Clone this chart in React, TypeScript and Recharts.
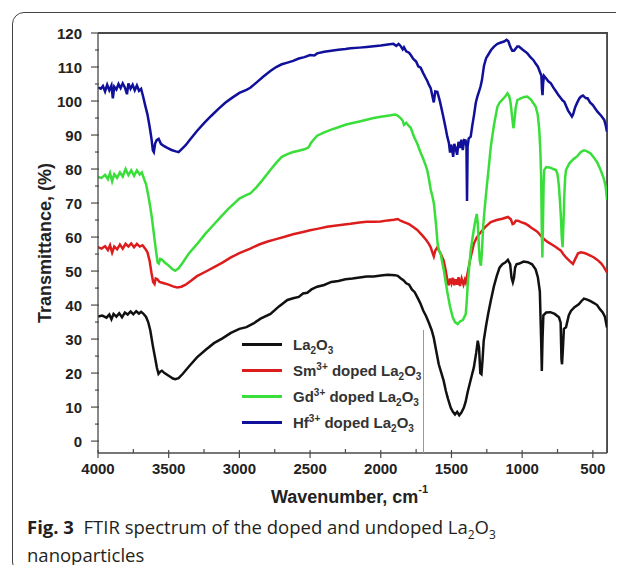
import { LineChart, Line, XAxis, YAxis, Legend, CartesianGrid } from 'recharts';
import type { ReactNode } from 'react';

type Pt = [number, number];

// [wavenumber (cm-1), transmittance (%)]
const la2o3: Pt[] = [
  [4000, 36.6], [3970, 36.9], [3940, 36.3], [3920, 37.2], [3905, 35.8], [3890, 37.4], [3870, 36.6], [3850, 37.6],
  [3830, 36.4], [3810, 37.8], [3790, 37.2], [3770, 38.1], [3750, 37.3], [3730, 38.2], [3710, 37.5], [3695, 38],
  [3680, 37.5], [3660, 36.5], [3645, 35], [3630, 32.5], [3612, 28], [3595, 24.2], [3583, 21.5], [3572, 19.8],
  [3560, 20.4], [3548, 20.7], [3530, 20], [3500, 19.2], [3470, 18.4], [3454, 18.2], [3430, 18.5], [3400, 19.8],
  [3360, 21.8], [3300, 24.6], [3240, 26.8], [3180, 28.8], [3120, 30.2], [3060, 31.8], [3000, 33], [2950, 33.5],
  [2900, 34.6], [2850, 36], [2780, 37.4], [2720, 39.6], [2660, 41.5], [2620, 42], [2580, 42.4], [2550, 43.4],
  [2520, 43.6], [2490, 44.6], [2450, 45.4], [2400, 45.9], [2350, 46.8], [2300, 47.1], [2250, 47.6], [2200, 47.8],
  [2150, 48.1], [2100, 48.4], [2050, 48.4], [2000, 48.7], [1950, 48.9], [1900, 48.8], [1880, 48.6], [1860, 47.9],
  [1840, 47.3], [1820, 46.4], [1800, 46], [1780, 44.6], [1760, 43.8], [1740, 42.2], [1720, 40.5], [1700, 38.4],
  [1680, 36.8], [1660, 34.8], [1640, 32.6], [1626, 30.5], [1610, 27], [1590, 22.6], [1575, 20.5], [1555, 17.7],
  [1540, 14.8], [1525, 12.5], [1505, 9.8], [1490, 8.6], [1475, 7.8], [1460, 8.6], [1445, 7.6], [1430, 8.4],
  [1413, 9.8], [1400, 11.5], [1385, 14.5], [1370, 17], [1355, 19.5], [1342, 21.6], [1325, 26], [1314, 29.5],
  [1305, 27.5], [1296, 20], [1288, 19.7], [1280, 24], [1272, 29.5], [1255, 34], [1240, 37.5], [1222, 41.3],
  [1200, 45.5], [1180, 48.5], [1160, 51], [1140, 52], [1120, 52.5], [1101, 53.3], [1085, 52], [1075, 48],
  [1066, 46.7], [1058, 48], [1050, 51], [1040, 52], [1020, 52.2], [990, 52.8], [960, 52.6], [930, 52],
  [905, 50.5], [889, 48.2], [875, 44], [866, 30], [861, 20.6], [856, 30], [850, 37], [830, 37.8], [800, 37.9],
  [770, 37.4], [740, 36.4], [728, 34.8], [722, 24], [718, 22.6], [712, 27], [705, 33], [690, 33.5], [670, 37],
  [655, 38.3], [630, 39.4], [600, 40.2], [580, 41.2], [563, 41.9], [540, 41.6], [520, 41.2], [492, 40.6],
  [470, 40], [450, 38.8], [430, 37.8], [415, 36.6], [400, 33.4],
];

const smDoped: Pt[] = [
  [4000, 57], [3975, 56.6], [3950, 57.3], [3930, 56.2], [3915, 57.6], [3900, 55.4], [3885, 57.2], [3865, 56.4],
  [3845, 57.8], [3825, 56.6], [3805, 58], [3785, 57.2], [3765, 58.1], [3745, 57], [3725, 58], [3705, 57.2],
  [3685, 57.6], [3665, 56.5], [3650, 55.5], [3635, 53], [3622, 49.5], [3610, 46.8], [3600, 46.2], [3592, 47.8],
  [3580, 47.6], [3565, 46.8], [3540, 46.5], [3500, 46], [3470, 45.5], [3440, 45.2], [3410, 45.4], [3380, 46],
  [3340, 47.2], [3300, 48.5], [3240, 49.8], [3182, 51.1], [3120, 52.5], [3060, 54], [3000, 55.3], [2923, 56.6],
  [2860, 57.8], [2800, 58.7], [2740, 59.4], [2686, 60], [2620, 60.8], [2550, 61.5], [2500, 62], [2450, 62.4],
  [2380, 63], [2300, 63.5], [2214, 63.9], [2150, 64.3], [2100, 64.5], [2050, 64.5], [2000, 64.6], [1950, 64.9],
  [1907, 65.1], [1880, 65.3], [1860, 64.8], [1836, 64.4], [1800, 63.8], [1768, 62.9], [1740, 62], [1718, 61],
  [1700, 60.2], [1680, 59.2], [1660, 58], [1647, 57], [1635, 55.5], [1625, 54.3], [1615, 56], [1600, 57],
  [1588, 56], [1575, 55], [1555, 53.1], [1540, 50], [1528, 47], [1520, 45.8], [1510, 47.8], [1500, 46.4],
  [1490, 48], [1480, 45.8], [1470, 47.6], [1460, 46], [1450, 48.2], [1440, 45.6], [1428, 47.8], [1415, 46],
  [1405, 47.4], [1399, 46.7], [1390, 48.5], [1378, 51.1], [1365, 54], [1350, 56.5], [1342, 58], [1320, 60],
  [1293, 61.4], [1260, 63], [1222, 64.4], [1180, 65], [1140, 65.4], [1101, 65.9], [1080, 65.2], [1068, 63.8],
  [1058, 64], [1045, 64.8], [1030, 64.8], [1008, 64.4], [980, 64], [960, 63.5], [930, 62.6], [900, 61.8],
  [889, 61.4], [860, 60], [840, 59.2], [818, 58.5], [790, 57.8], [760, 57], [740, 56.4], [726, 56], [710, 55],
  [690, 54], [665, 53], [641, 52.1], [625, 53.5], [605, 55.2], [584, 55.5], [560, 55.3], [540, 55], [515, 54.5],
  [492, 54], [460, 53], [440, 52.2], [421, 51.1], [400, 49.6],
];

const gdDoped: Pt[] = [
  [4000, 77.7], [3975, 77.4], [3950, 78.3], [3930, 77], [3915, 78.8], [3900, 76.4], [3885, 78.5], [3865, 77.4],
  [3845, 79], [3825, 77.8], [3805, 80], [3785, 78.2], [3765, 79.6], [3745, 78], [3725, 79.6], [3705, 78.4],
  [3690, 79], [3675, 77.2], [3660, 75.5], [3648, 73], [3635, 70], [3620, 66], [3605, 61], [3590, 56],
  [3578, 52.5], [3570, 52.2], [3560, 53.6], [3548, 53.4], [3530, 52.6], [3500, 51.6], [3475, 50.6], [3454, 50.1],
  [3430, 50.8], [3400, 52.5], [3360, 55], [3300, 57.9], [3240, 61], [3200, 62.8], [3135, 65.8], [3080, 68.2],
  [3000, 71.3], [2960, 72.2], [2923, 72.8], [2880, 74.6], [2840, 76.6], [2781, 79.7], [2740, 81.8], [2700, 83.6],
  [2660, 84.4], [2620, 85], [2580, 85.4], [2540, 85.8], [2510, 86.4], [2495, 87.6], [2480, 88.4], [2450, 89.8],
  [2400, 90.8], [2350, 91.6], [2300, 92.3], [2250, 93], [2214, 93.4], [2150, 94], [2100, 94.5], [2050, 95],
  [2000, 95.4], [1950, 95.7], [1900, 96], [1883, 95.8], [1860, 95], [1845, 94.2], [1836, 93], [1820, 93.6],
  [1800, 92.6], [1789, 92.2], [1765, 89.5], [1742, 87.5], [1720, 85], [1700, 83], [1680, 80.8], [1671, 79.6],
  [1660, 77.2], [1647, 74], [1635, 72], [1624, 69.8], [1610, 64], [1598, 58], [1588, 56], [1576, 55],
  [1565, 52.5], [1553, 50], [1540, 46.5], [1527, 43.3], [1510, 39.5], [1491, 36.4], [1475, 35], [1456, 34.4],
  [1440, 35.2], [1420, 35.6], [1405, 36.8], [1399, 37.4], [1392, 41], [1385, 46], [1375, 51], [1364, 56],
  [1350, 60], [1335, 64], [1321, 66.8], [1314, 64], [1307, 58], [1300, 53], [1292, 51.6], [1284, 56],
  [1276, 63], [1265, 68.5], [1250, 75], [1235, 81], [1222, 86.5], [1210, 90], [1199, 93], [1185, 96.2],
  [1175, 98.3], [1160, 99.5], [1140, 100.4], [1120, 101.3], [1104, 102.3], [1092, 101.5], [1082, 99.5],
  [1070, 95], [1062, 92], [1055, 94], [1046, 98], [1034, 100.3], [1010, 100.8], [985, 101.2], [963, 101.3],
  [935, 100.3], [904, 98.3], [890, 96], [880, 92], [872, 86], [866, 78], [861, 62], [857, 54], [852, 66],
  [848, 76], [844, 79.7], [830, 80.6], [800, 80.4], [780, 80], [761, 79.7], [750, 78.5], [740, 75], [732, 70],
  [726, 65.8], [720, 60], [714, 57], [708, 64], [702, 72], [696, 77.5], [690, 79.7], [667, 81.6], [640, 82.8],
  [610, 83.8], [585, 85], [563, 85.5], [540, 85.2], [516, 84.6], [495, 83.5], [470, 82], [445, 79.7],
  [425, 77.5], [410, 75], [400, 71],
];

const hfDoped: Pt[] = [
  [4000, 104], [3980, 103.6], [3965, 104.4], [3950, 102.8], [3935, 104.8], [3920, 103.2], [3905, 104.6],
  [3895, 100.8], [3885, 104.2], [3870, 103.4], [3855, 105], [3840, 103.8], [3825, 105.2], [3810, 104],
  [3795, 102], [3785, 105.2], [3770, 103.6], [3755, 104.8], [3740, 103.2], [3725, 104.6], [3710, 103],
  [3695, 103.6], [3680, 101.2], [3665, 98.5], [3650, 96], [3635, 92.5], [3622, 89], [3612, 85.5], [3605, 85],
  [3596, 87.5], [3585, 88.5], [3571, 88.9], [3555, 87.4], [3535, 86.8], [3510, 86.2], [3480, 85.6], [3450, 85.2],
  [3430, 85], [3410, 85.8], [3380, 87], [3350, 88.6], [3300, 91.2], [3250, 93.5], [3200, 95.6], [3150, 97.6],
  [3100, 99.5], [3050, 101], [3000, 102.4], [2950, 103.3], [2923, 103.9], [2880, 105.4], [2830, 107.2],
  [2781, 108.8], [2740, 110], [2700, 110.8], [2660, 111.3], [2620, 111.8], [2580, 112.5], [2540, 112.9],
  [2500, 113.5], [2470, 113.4], [2450, 114], [2400, 114.5], [2350, 114.8], [2300, 115.1], [2250, 115.3],
  [2214, 115.5], [2150, 115.7], [2100, 115.9], [2050, 116.1], [2000, 116.3], [1950, 116.6], [1910, 116.8],
  [1890, 116.2], [1874, 116.8], [1860, 116.2], [1845, 115.2], [1836, 115.8], [1820, 114.6], [1800, 114.2],
  [1789, 113.6], [1770, 112.4], [1750, 111.6], [1735, 110.2], [1718, 109.8], [1700, 108.2], [1685, 107],
  [1670, 105.8], [1660, 104.8], [1647, 103.8], [1635, 101.5], [1625, 99.6], [1615, 102.8], [1600, 102.7],
  [1590, 101.2], [1580, 99.6], [1565, 96.8], [1553, 94.4], [1540, 91.8], [1530, 89.6], [1518, 87.6],
  [1510, 84.8], [1503, 87.2], [1495, 85.8], [1488, 83.6], [1480, 87.4], [1470, 86], [1460, 84.2], [1450, 88],
  [1440, 86.2], [1430, 88.6], [1420, 85.6], [1410, 88.5], [1400, 88.4], [1394, 86.5], [1390, 70.6], [1386, 86.5],
  [1378, 89], [1364, 89.5], [1352, 93], [1340, 96], [1328, 99.5], [1317, 101.3], [1305, 102.8], [1295, 104.2],
  [1285, 106], [1270, 110.4], [1255, 112.6], [1240, 113.6], [1220, 115], [1199, 116], [1175, 116.8],
  [1150, 117.2], [1128, 117.5], [1110, 118], [1098, 117.6], [1088, 116.4], [1080, 115.6], [1070, 114.8],
  [1058, 114.8], [1046, 115.4], [1035, 116], [1023, 116], [1000, 115.2], [980, 114.6], [963, 114], [940, 112.8],
  [920, 112], [905, 111], [889, 110.1], [875, 108.6], [864, 107.4], [860, 103.5], [856, 101.7], [852, 105],
  [846, 107.4], [830, 106.6], [815, 105.8], [797, 105.2], [780, 104], [760, 102.8], [745, 101.8], [726, 100.8],
  [715, 100.2], [702, 99.8], [690, 98.6], [675, 97.2], [660, 96.2], [648, 95.4], [640, 96], [625, 98.2],
  [610, 99.6], [595, 100.8], [584, 101.3], [570, 101.6], [560, 101.2], [548, 100.8], [537, 100.8], [520, 99.6],
  [500, 98.8], [480, 97.6], [466, 96.8], [440, 95.6], [419, 94.4], [410, 93], [400, 91],
];

const xTicks = [4000, 3750, 3500, 3250, 3000, 2750, 2500, 2250, 2000, 1750, 1500, 1250, 1000, 750, 500];
const yTicks = [0, 5, 10, 15, 20, 25, 30, 35, 40, 45, 50, 55, 60, 65, 70, 75, 80, 85, 90, 95, 100, 105, 110, 115, 120];
const xDomain: [number, number] = [400, 4000];
const yDomain: [number, number] = [-3.5, 120];

const series = [
  { name: 'La2O3', points: la2o3, color: '#111111' },
  { name: 'Sm3+ doped La2O3', points: smDoped, color: '#dd1d1d' },
  { name: 'Gd3+ doped La2O3', points: gdDoped, color: '#3ade3a' },
  { name: 'Hf3+ doped La2O3', points: hfDoped, color: '#10109a' },
];

const toRows = (pts: Pt[]) => pts.map(([w, t]) => ({ w, t }));

const FONT = '"Liberation Sans", Arial, sans-serif';
const AXIS = '#4a4a4a';
const FRAME = '#4a4a4a';
const CHART_W = 624;
const CHART_H = 573;
const MARGIN = { top: 33, right: 17, bottom: 80, left: 38 };
const Y_AXIS_W = 60;
const X_AXIS_H = 40;

const Sub = ({ children }: { children: ReactNode }) => (
  <span style={{ fontSize: 10, position: 'relative', top: 4 }}>{children}</span>
);
const Sup = ({ children }: { children: ReactNode }) => (
  <span style={{ fontSize: 10, position: 'relative', top: -6 }}>{children}</span>
);

const la = <>La<Sub>2</Sub>O<Sub>3</Sub></>;
const legendText: Record<string, ReactNode> = {
  'La2O3': la,
  'Sm3+ doped La2O3': <>Sm<Sup>3+</Sup> doped {la}</>,
  'Gd3+ doped La2O3': <>Gd<Sup>3+</Sup> doped {la}</>,
  'Hf3+ doped La2O3': <>Hf<Sup>3+</Sup> doped {la}</>,
};

const seriesOrder = (name: string) => series.findIndex((s) => s.name === name);

function LegendBox({ payload }: any) {
  const items = [...(payload || [])].sort((a: any, b: any) => seriesOrder(a.value) - seriesOrder(b.value));
  return (
    <div style={{ paddingTop: 1, fontFamily: FONT, fontWeight: 700, fontSize: 15, color: '#333' }}>
      {items.map((p: any) => (
        <div key={p.value} style={{ height: 26, display: 'flex', alignItems: 'center', whiteSpace: 'nowrap' }}>
          <div style={{ width: 40, height: 3, marginLeft: 6, marginRight: 11, background: p.color }} />
          <span>{legendText[p.value]}</span>
        </div>
      ))}
    </div>
  );
}

function YTick({ x, y, payload }: any) {
  const major = payload.value % 10 === 0;
  return (
    <g>
      <line x1={x - (major ? 7 : 3)} x2={x + 1} y1={y} y2={y} stroke={AXIS} strokeWidth={1.2} />
      {major && (
        <text x={x - 16} y={y} textAnchor="end" dominantBaseline="central" fontFamily={FONT} fontWeight={700} fontSize={15} fill="#222">
          {payload.value}
        </text>
      )}
    </g>
  );
}

function XTick({ x, y, payload }: any) {
  const major = payload.value % 500 === 0;
  return (
    <g>
      <line x1={x} x2={x} y1={major ? y - 3 : y - 4} y2={major ? y + 5 : y} stroke={AXIS} strokeWidth={1.2} />
      {major && (
        <text x={x} y={y + 15} textAnchor="middle" dominantBaseline="central" fontFamily={FONT} fontWeight={700} fontSize={15} fill="#222">
          {payload.value}
        </text>
      )}
    </g>
  );
}

function YTitle({ viewBox }: any) {
  const cx = viewBox.x + 7;
  const cy = viewBox.y + viewBox.height / 2;
  return (
    <text x={cx} y={cy} transform={`rotate(-90 ${cx} ${cy})`} textAnchor="middle" dominantBaseline="central" fontFamily={FONT} fontWeight={700} fontSize={18} fill="#222">
      Transmittance, (%)
    </text>
  );
}

function XTitle({ viewBox }: any) {
  const cx = viewBox.x + viewBox.width / 2 - 3;
  const cy = viewBox.y + 44;
  return (
    <text x={cx} y={cy} textAnchor="middle" dominantBaseline="central" fontFamily={FONT} fontWeight={700} fontSize={18} fill="#222">
      Wavenumber, cm<tspan fontSize={11} dy={-8}>-1</tspan>
    </text>
  );
}

export default function App() {
  const plotLeft = MARGIN.left + Y_AXIS_W;
  const plotW = CHART_W - plotLeft - MARGIN.right;
  const plotH = CHART_H - MARGIN.top - MARGIN.bottom - X_AXIS_H;
  return (
    <div style={{ position: 'relative', width: CHART_W, height: CHART_H, margin: -8, background: '#fff', overflow: 'hidden' }}>
      <div style={{ position: 'absolute', left: 12, top: 12, width: 700, height: 562, border: '1.3px solid #444', borderRadius: 12, boxSizing: 'border-box' }} />
      <div style={{ position: 'absolute', left: 0, top: 0 }}>
        <LineChart width={CHART_W} height={CHART_H} margin={MARGIN}>
          {/* top and right edges of the plot box */}
          <CartesianGrid
            stroke={FRAME}
            strokeWidth={1.8}
            horizontalCoordinatesGenerator={({ offset }: any) => [offset.top]}
            verticalCoordinatesGenerator={({ offset }: any) => [offset.left + offset.width]}
          />
          <XAxis
            dataKey="w"
            type="number"
            domain={xDomain}
            reversed
            allowDataOverflow
            ticks={xTicks}
            interval={0}
            height={X_AXIS_H}
            tickSize={0}
            tickMargin={0}
            tickLine={false}
            axisLine={{ stroke: AXIS, strokeWidth: 1.3 }}
            tick={<XTick />}
            label={<XTitle />}
          />
          <YAxis
            type="number"
            domain={yDomain}
            allowDataOverflow
            ticks={yTicks}
            interval={0}
            width={Y_AXIS_W}
            tickSize={0}
            tickMargin={0}
            tickLine={false}
            axisLine={{ stroke: AXIS, strokeWidth: 1.3 }}
            tick={<YTick />}
            label={<YTitle />}
          />
          <Legend
            layout="vertical"
            align="center"
            verticalAlign="middle"
            wrapperStyle={{ left: 236, top: 330, width: 188, height: 123, borderRight: '1px solid #999', boxSizing: 'border-box' }}
            content={<LegendBox />}
          />
          {series.map((s) => (
            <Line
              key={s.name}
              name={s.name}
              data={toRows(s.points)}
              dataKey="t"
              type="linear"
              stroke={s.color}
              strokeWidth={2.5}
              dot={false}
              activeDot={false}
              isAnimationActive={false}
            />
          ))}
        </LineChart>
      </div>
      {/* same frame edges as plain CSS, in case the grid drops its edge lines */}
      <div
        style={{
          position: 'absolute',
          left: plotLeft,
          top: MARGIN.top - 0.9,
          width: plotW + 0.9,
          height: plotH + 0.9,
          borderTop: `1.8px solid ${FRAME}`,
          borderRight: `1.8px solid ${FRAME}`,
          boxSizing: 'border-box',
          pointerEvents: 'none',
        }}
      />
      <div style={{ position: 'absolute', left: 27, top: 513, fontFamily: '"Open Sans", sans-serif', fontSize: 18.5, lineHeight: '28px', color: '#231f20', whiteSpace: 'nowrap' }}>
        <b>Fig. 3</b>&nbsp;&nbsp;FTIR spectrum of the doped and undoped La<sub style={{ fontSize: 12, lineHeight: 0 }}>2</sub>O<sub style={{ fontSize: 12, lineHeight: 0 }}>3</sub>
      </div>
      <div style={{ position: 'absolute', left: 27, top: 541, fontFamily: '"Open Sans", sans-serif', fontSize: 18.5, lineHeight: '28px', color: '#231f20' }}>
        nanoparticles
      </div>
    </div>
  );
}
